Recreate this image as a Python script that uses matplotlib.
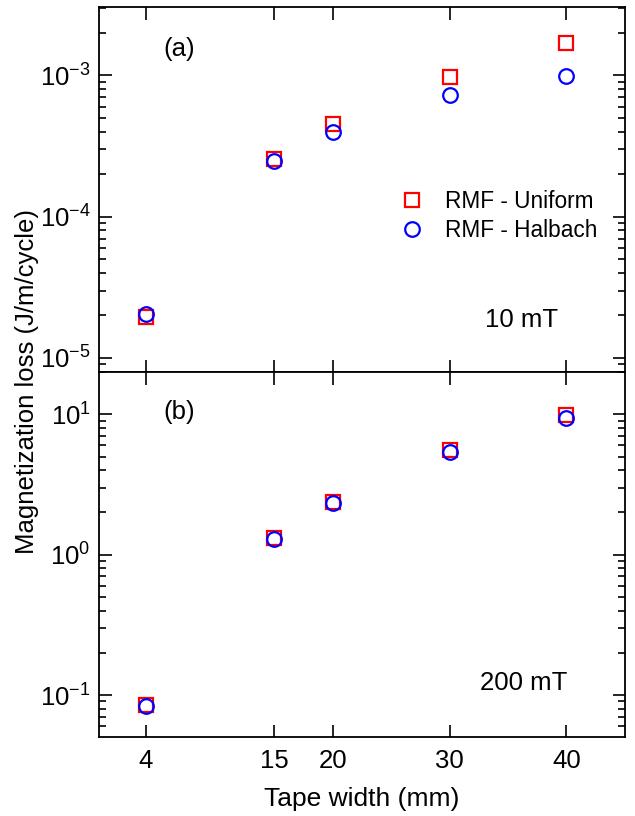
import matplotlib
matplotlib.use("Agg")
import matplotlib.pyplot as plt
from matplotlib.ticker import LogLocator, NullFormatter, FixedLocator

plt.rcParams["font.family"] = ["Liberation Sans", "DejaVu Sans"]
plt.rcParams["mathtext.fontset"] = "custom"
plt.rcParams["mathtext.rm"] = "Liberation Sans"
plt.rcParams["mathtext.it"] = "Liberation Sans:italic"
plt.rcParams["mathtext.default"] = "regular"
plt.rcParams["axes.unicode_minus"] = False

# Tape widths (mm)
widths = [4, 15, 20, 30, 40]

# Magnetization loss (J/m/cycle), 10 mT
uniform_10mT = [1.95e-5, 2.55e-4, 4.5e-4, 9.8e-4, 1.70e-3]
halbach_10mT = [2.06e-5, 2.48e-4, 4.0e-4, 7.25e-4, 9.9e-4]

# Magnetization loss (J/m/cycle), 200 mT
uniform_200mT = [0.085, 1.32, 2.38, 5.6, 9.9]
halbach_200mT = [0.084, 1.30, 2.34, 5.4, 9.4]

fs = 18.5

fig = plt.figure(figsize=(6.35, 8.16), dpi=100)
ax1 = fig.add_axes([0.156, 0.5445, 0.828, 0.447])
ax2 = fig.add_axes([0.156, 0.0972, 0.828, 0.4473])

def style(ax, ylim, yticks, ylabels):
     ax.set_yscale("log")
     ax.set_xlim(0, 45)
     ax.set_ylim(*ylim)
     ax.set_xticks(widths)
     ax.yaxis.set_major_locator(FixedLocator(yticks))
     ax.set_yticklabels(ylabels)
     ax.yaxis.set_minor_locator(LogLocator(base=10, subs=range(2, 10), numticks=20))
     ax.yaxis.set_minor_formatter(NullFormatter())
     ax.tick_params(which="both", direction="in", top=True, right=True,
                    labelsize=fs, width=1.2)
     ax.tick_params(which="major", length=9, pad=6)
     ax.tick_params(axis="x", which="major", pad=9)
     ax.tick_params(which="minor", length=5)
     for s in ax.spines.values():
          s.set_linewidth(1.3)

def draw(ax, u, h):
     ax.plot(widths, u, linestyle="none", marker="s", markersize=10,
             markerfacecolor="none", markeredgecolor="red", markeredgewidth=1.6,
             label="RMF - Uniform")
     ax.plot(widths, h, linestyle="none", marker="o", markersize=10.5,
             markerfacecolor="none", markeredgecolor="blue", markeredgewidth=1.6,
             label="RMF - Halbach")

draw(ax1, uniform_10mT, halbach_10mT)
draw(ax2, uniform_200mT, halbach_200mT)

style(ax1, (8e-6, 3.05e-3), [1e-5, 1e-4, 1e-3],
      ["$10^{-5}$", "$10^{-4}$", "$10^{-3}$"])
style(ax2, (0.0505, 20.1), [0.1, 1, 10],
      ["$10^{-1}$", "$10^{0}$", "$10^{1}$"])
ax1.tick_params(labelbottom=False)

ax1.legend(loc="upper left", bbox_to_anchor=(0.546, 0.522), frameon=False,
           fontsize=16.3, handletextpad=0.7, labelspacing=0.25,
           handlelength=1.5, borderaxespad=0)

ax1.text(0.122, 0.885, "(a)", transform=ax1.transAxes, fontsize=fs, va="center")
ax2.text(0.122, 0.89, "(b)", transform=ax2.transAxes, fontsize=fs, va="center")
ax1.text(0.873, 0.142, "10 mT", transform=ax1.transAxes, fontsize=fs,
         va="center", ha="right")
ax2.text(0.89, 0.148, "200 mT", transform=ax2.transAxes, fontsize=fs,
         va="center", ha="right")

ax2.set_xlabel("Tape width (mm)", fontsize=19, labelpad=10)
fig.text(0.043, 0.533, "Magnetization loss (J/m/cycle)", rotation=90,
         fontsize=fs, ha="center", va="center")

fig.savefig("out.png", dpi=100)
